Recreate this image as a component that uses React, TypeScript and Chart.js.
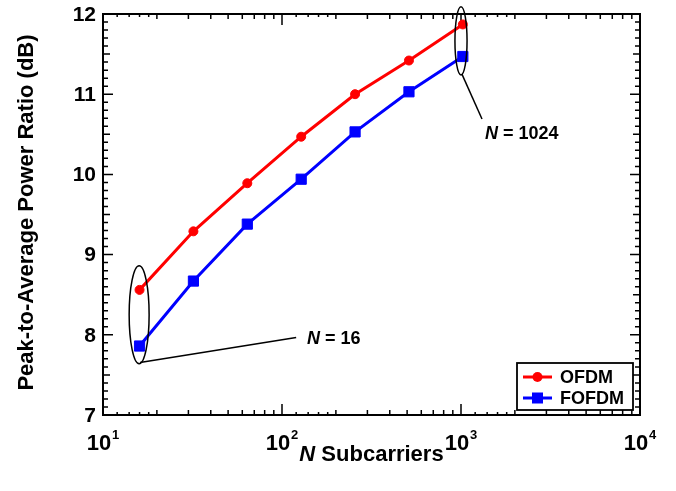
import React, { useEffect, useRef } from 'react';
import { Chart, registerables } from 'chart.js';

Chart.register(...registerables);

// ---- data ----
const subcarriers = [16, 32, 64, 128, 256, 512, 1024];
const ofdmPapr = [8.56, 9.29, 9.89, 10.47, 11.0, 11.42, 11.87];
const fofdmPapr = [7.86, 8.67, 9.38, 9.94, 10.53, 11.03, 11.47];
const seriesNames = ['OFDM', 'FOFDM'];
const yTickValues = [7, 8, 9, 10, 11, 12];
const xDecades = [10, 100, 1000, 10000];
const xDecadeExponents = ['1', '2', '3', '4'];
const xMinorMultipliers = [1.2, 1.4, 1.6, 1.8];
const xMidMultipliers = [2, 3, 4, 5, 6, 7, 8, 9];
const xTitleItalic = 'N';
const xTitleRest = ' Subcarriers';
const yTitle = 'Peak-to-Average Power Ratio (dB)';
const annotationValues = ['16', '1024'];
// annotation anchors in data units: ellipse bounds [xMin, xMax, yMin, yMax]
const ellipseBounds = [
  [14, 18.1, 7.64, 8.86],
  [925, 1081, 11.24, 12.09],
];
// leader lines: [x1, y1, x2, y2]
const leaderLines = [
  [16.1, 7.655, 120, 7.965],
  [1012, 11.25, 1310, 10.69],
];
// label anchors (left edge, vertical centre)
const labelAnchors = [
  [138, 7.965],
  [1361, 10.52],
];

const RED = '#ff0000';
const BLUE = '#0000ff';
const FONT = '"Liberation Sans", Arial, Helvetica, sans-serif';

function drawMarker(ctx: CanvasRenderingContext2D, style: string, color: string, x: number, y: number) {
  ctx.fillStyle = color;
  if (style === 'circle') {
    ctx.beginPath();
    ctx.arc(x, y, 5, 0, Math.PI * 2);
    ctx.fill();
  } else {
    ctx.fillRect(x - 5.5, y - 5.5, 11, 11);
  }
}

const axesPlugin = {
  id: 'axesFrame',
  beforeDatasetsDraw(chart: any) {
    const { ctx, chartArea: a } = chart;
    const x = chart.scales.x;
    const y = chart.scales.y;
    ctx.save();
    ctx.strokeStyle = '#000';
    ctx.lineWidth = 1.5;
    ctx.beginPath();
    for (let i = 70; i <= 120; i++) {
      const py = y.getPixelForValue(i / 10);
      const len = i % 10 === 0 ? 10 : i % 5 === 0 ? 7 : 5;
      ctx.moveTo(a.left, py);
      ctx.lineTo(a.left + len, py);
      ctx.moveTo(a.right, py);
      ctx.lineTo(a.right - len, py);
    }
    const vtick = (v: number, len: number) => {
      const px = x.getPixelForValue(v);
      ctx.moveTo(px, a.bottom);
      ctx.lineTo(px, a.bottom - len);
      ctx.moveTo(px, a.top);
      ctx.lineTo(px, a.top + len);
    };
    xDecades.forEach((d, k) => {
      vtick(d, 11);
      if (k < xDecades.length - 1) {
        xMinorMultipliers.forEach((m) => vtick(d * m, 3));
        xMidMultipliers.forEach((m) => vtick(d * m, 5));
      }
    });
    ctx.stroke();
    ctx.lineWidth = 2;
    ctx.strokeRect(a.left, a.top, a.right - a.left, a.bottom - a.top);

    // tick labels
    ctx.fillStyle = '#000';
    ctx.font = `bold 21px ${FONT}`;
    ctx.textAlign = 'right';
    ctx.textBaseline = 'middle';
    yTickValues.forEach((v) => {
      ctx.fillText(String(v), a.left - 7, y.getPixelForValue(v) + 1);
    });
    ctx.textBaseline = 'alphabetic';
    ctx.textAlign = 'left';
    xDecades.forEach((d, k) => {
      ctx.font = `bold 22px ${FONT}`;
      const wBase = ctx.measureText('10').width;
      ctx.font = `bold 13px ${FONT}`;
      const wExp = ctx.measureText(xDecadeExponents[k]).width;
      const total = wBase + 1 + wExp;
      const px = x.getPixelForValue(d) - total / 2;
      ctx.font = `bold 22px ${FONT}`;
      ctx.fillText('10', px, 450);
      ctx.font = `bold 13px ${FONT}`;
      ctx.fillText(xDecadeExponents[k], px + wBase + 1, 438.5);
    });

    // axis titles
    ctx.font = `italic bold 22px ${FONT}`;
    const wN = ctx.measureText(xTitleItalic).width;
    ctx.font = `bold 22px ${FONT}`;
    const wRest = ctx.measureText(xTitleRest).width;
    const cx = (a.left + a.right) / 2;
    const sx = cx - (wN + wRest) / 2;
    ctx.font = `italic bold 22px ${FONT}`;
    ctx.fillText(xTitleItalic, sx, 461);
    ctx.font = `bold 22px ${FONT}`;
    ctx.fillText(xTitleRest, sx + wN, 461);

    ctx.save();
    ctx.translate(33, 212.5);
    ctx.rotate(-Math.PI / 2);
    ctx.textAlign = 'center';
    ctx.font = `bold 22px ${FONT}`;
    ctx.fillText(yTitle, 0, 0);
    ctx.restore();
    ctx.restore();
  },
};

const annotationPlugin = {
  id: 'annotations',
  afterDatasetsDraw(chart: any) {
    const { ctx, chartArea: a } = chart;
    const x = chart.scales.x;
    const y = chart.scales.y;
    ctx.save();
    ctx.strokeStyle = '#000';
    ctx.lineWidth = 1.5;
    ellipseBounds.forEach(([x0, x1, y0, y1]) => {
      const px0 = x.getPixelForValue(x0);
      const px1 = x.getPixelForValue(x1);
      const py0 = y.getPixelForValue(y0);
      const py1 = y.getPixelForValue(y1);
      ctx.beginPath();
      ctx.ellipse((px0 + px1) / 2, (py0 + py1) / 2, Math.abs(px1 - px0) / 2, Math.abs(py1 - py0) / 2, 0, 0, Math.PI * 2);
      ctx.stroke();
    });
    leaderLines.forEach(([x0, y0, x1, y1]) => {
      ctx.beginPath();
      ctx.moveTo(x.getPixelForValue(x0), y.getPixelForValue(y0));
      ctx.lineTo(x.getPixelForValue(x1), y.getPixelForValue(y1));
      ctx.stroke();
    });
    ctx.fillStyle = '#000';
    ctx.textAlign = 'left';
    ctx.textBaseline = 'alphabetic';
    labelAnchors.forEach(([lx, ly], k) => {
      const px = x.getPixelForValue(lx);
      const py = y.getPixelForValue(ly) + 6.5;
      ctx.font = `italic bold 18px ${FONT}`;
      ctx.fillText('N', px, py);
      const wN = ctx.measureText('N').width;
      ctx.font = `bold 18px ${FONT}`;
      ctx.fillText(' = ' + annotationValues[k], px + wN, py);
    });

    // legend
    const bw = 116;
    const bh = 47;
    const bx = a.right - 7 - bw;
    const by = a.bottom - 5 - bh;
    ctx.fillStyle = '#fff';
    ctx.fillRect(bx, by, bw, bh);
    ctx.lineWidth = 1.8;
    ctx.strokeRect(bx, by, bw, bh);
    const styles = ['circle', 'rect'];
    const colors = [RED, BLUE];
    seriesNames.forEach((name, k) => {
      const ry = by + 14 + k * 21;
      ctx.strokeStyle = colors[k];
      ctx.lineWidth = 3;
      ctx.beginPath();
      ctx.moveTo(bx + 6, ry);
      ctx.lineTo(bx + 35, ry);
      ctx.stroke();
      drawMarker(ctx, styles[k], colors[k], bx + 20.5, ry);
      ctx.fillStyle = '#000';
      ctx.font = `bold 18px ${FONT}`;
      ctx.textBaseline = 'middle';
      ctx.fillText(name, bx + 43, ry + 1);
    });
    ctx.restore();
  },
};

export default function App() {
  const ref = useRef<HTMLCanvasElement>(null);
  useEffect(() => {
    const canvas = ref.current;
    if (!canvas) return;
    const chart = new Chart(canvas, {
      type: 'line',
      data: {
        datasets: [
          {
            label: seriesNames[0],
            data: subcarriers.map((n, i) => ({ x: n, y: ofdmPapr[i] })),
            borderColor: RED,
            backgroundColor: RED,
            borderWidth: 3,
            pointStyle: 'circle',
            pointRadius: 4.5,
            pointBorderWidth: 1,
            pointBackgroundColor: RED,
            pointBorderColor: RED,
            clip: false,
          },
          {
            label: seriesNames[1],
            data: subcarriers.map((n, i) => ({ x: n, y: fofdmPapr[i] })),
            borderColor: BLUE,
            backgroundColor: BLUE,
            borderWidth: 3,
            pointStyle: 'rect',
            pointRadius: 7.2,
            pointBorderWidth: 1,
            pointBackgroundColor: BLUE,
            pointBorderColor: BLUE,
            clip: false,
          },
        ],
      },
      options: {
        responsive: false,
        animation: false,
        devicePixelRatio: 1,
        events: [],
        layout: { padding: { left: 103, right: 36, top: 14, bottom: 76 } },
        scales: {
          x: { type: 'logarithmic', min: 10, max: 10000, display: false },
          y: { type: 'linear', min: 7, max: 12, display: false },
        },
        plugins: { legend: { display: false }, tooltip: { enabled: false } },
      } as any,
      plugins: [axesPlugin, annotationPlugin],
    });
    return () => chart.destroy();
  }, []);
  return (
    <canvas
      ref={ref}
      width={676}
      height={491}
      style={{ position: 'fixed', left: 0, top: 0, display: 'block', background: '#fff' }}
    />
  );
}
